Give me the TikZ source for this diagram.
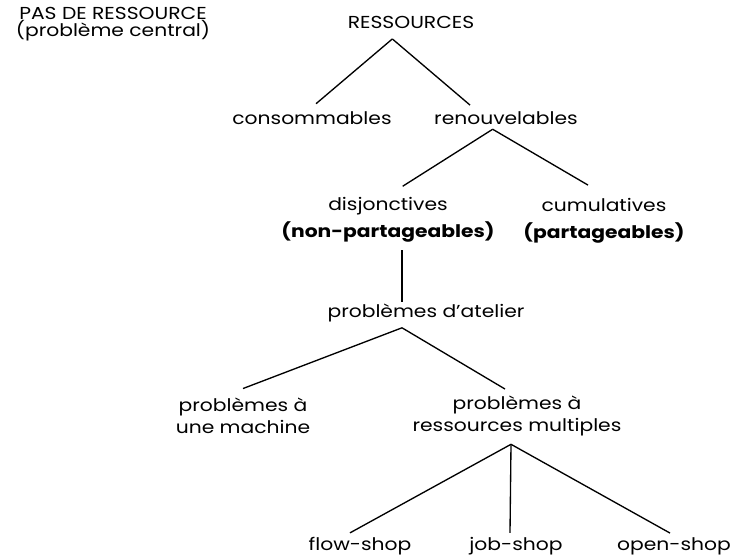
\documentclass[tikz,border=0pt]{standalone}
\usepackage{fontspec}
\setmainfont{Poppins}[FakeStretch=1.17]
\usepackage{tikz}
\usetikzlibrary{positioning}

\tikzset{
  lbl/.style={font=\fontsize{13}{16.5}\selectfont, inner sep=0pt, align=center},
  twoline/.style={lbl, font=\fontsize{13}{20}\selectfont},
  link/.style={draw=black, line width=1pt}
}

\begin{document}
\begin{tikzpicture}[x=0.75pt, y=-0.75pt]
\useasboundingbox (0,0) rectangle (731,559);

% Top labels
\node[lbl, font=\fontsize{13}{12}\selectfont] (none) at (113,24) {PAS DE RESSOURCE\\(problème central)};
\node[lbl] (ress) at (411,22.5) {RESSOURCES};

% First split
\node[lbl] (cons) at (312,118.5) {consommables};
\node[lbl] (renou) at (506,118.5) {renouvelables};

% Renewable resources
\node[twoline] (disj) at (388,219.5) {disjonctives\\\textbf{(non-partageables)}};
\node[twoline] (cumul) at (604,221) {cumulatives\\\textbf{(partageables)}};

% Shop problems
\node[lbl] (atel) at (426,312.5) {problèmes d’atelier};
\node[lbl] (mach) at (243,416) {problèmes à\\une machine};
\node[lbl] (multi) at (517,416) {problèmes à\\ressources multiples};

% Leaves
\foreach \n/\x/\t in {flow/360/flow-shop, job/516/job-shop, open/674/open-shop}
  \node[lbl] (\n) at (\x,546) {\t};

% Branch points
\coordinate (ressB) at ([xshift=-14pt, yshift=-7.5pt]ress.south);
\coordinate (renouB) at ([xshift=-10pt, yshift=-3pt]renou.south);
\coordinate (atelB) at ([xshift=-18pt, yshift=-4.5pt]atel.south);
\coordinate (multiB) at ([xshift=-4.5pt, yshift=-6pt]multi.south);

% Links
\draw[link] (ressB) -- ([xshift=3pt, yshift=6pt]cons.north);
\draw[link] (ressB) -- ([xshift=-27pt, yshift=5pt]renou.north);
\draw[link] (renouB) -- ([xshift=11pt, yshift=8pt]disj.north);
\draw[link] (renouB) -- ([xshift=-12pt, yshift=10pt]cumul.north);
\draw[link] ([xshift=10.5pt, yshift=-6pt]disj.south) -- ([xshift=-18pt, yshift=1pt]atel.north);
\draw[link] (atelB) -- ([yshift=7pt]mach.north);
\draw[link] (atelB) -- ([xshift=-9pt, yshift=5pt]multi.north);
\draw[link] (multiB) -- ([xshift=-7.5pt, yshift=3pt]flow.north);
\draw[link] (multiB) -- ([xshift=-4.5pt, yshift=3pt]job.north);
\draw[link] (multiB) -- ([xshift=-3pt, yshift=3pt]open.north);
\end{tikzpicture}
\end{document}
